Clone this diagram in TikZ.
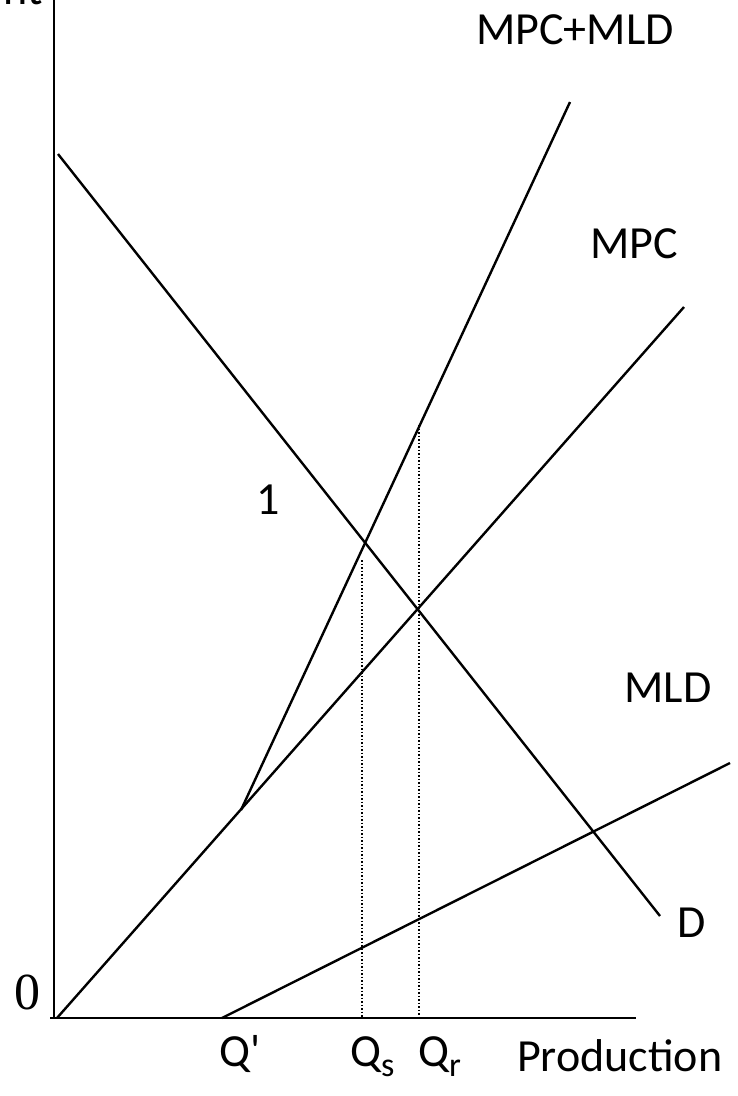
\documentclass[tikz,border=0pt]{standalone}
\usepackage{fontspec}
\setmainfont{Carlito}
\newfontfamily\zerofont{Liberation Serif}
\usetikzlibrary{positioning}
\tikzset{%
  curve/.style={line width=2.4pt,black},
  guide/.style={line width=1.5pt,dotted},
  lbl/.style={font=\fontsize{46}{52}\selectfont,inner sep=0pt}
}

\begin{document}
\begin{tikzpicture}[x=1pt,y=-1pt]
  \useasboundingbox (0,0) rectangle (738,1096);
  % axes
  \coordinate (ytop) at (54,0);
  \coordinate (orig) at (54,1018);
  \coordinate (xleft) at (50,1018);
  \coordinate (xend) at (636,1018);
  \draw[curve] (ytop) -- (orig);
  \draw[curve] (xleft) -- (xend);

  % curves
  \coordinate (d0) at (58,154);
  \coordinate (d1) at (660,916);
  \coordinate (mpc0) at (57,1018);
  \coordinate (mpc1) at (684,307);
  \coordinate (kink) at (241,810);
  \coordinate (sum1) at (570,102);
  \coordinate (mld0) at (222,1018);
  \coordinate (mld1) at (730,763);
  \draw[curve] (d0) -- (d1);
  \draw[curve] (mpc0) -- (mpc1);
  \draw[curve] (kink) -- (sum1);
  \draw[curve] (mld0) -- (mld1);

  % guides
  \coordinate (qs0) at (362,560);
  \coordinate (qs1) at (362,1018);
  \coordinate (qr0) at (419,425);
  \coordinate (qr1) at (419,1018);
  \draw[guide] (qs0) -- (qs1);
  \draw[guide] (qr0) -- (qr1);

  % labels
  \node[lbl, anchor=base east] (ytitle) at (43,4) {nt};
  \node[lbl] (lsum) at (575,30) {MPC+MLD};
  \node[lbl] (lmpc) at (634,244) {MPC};
  \node[lbl] (lmld) at (668,688) {MLD};
  \node[lbl] (ld) at (692,923) {D};
  \node[lbl] (lone) at (268,500) {1};
  \node[inner sep=0pt, font=\fontsize{52}{56}\zerofont] (lzero) at (27,992) {0};
  \node[lbl, anchor=base] (lqp) at (240,1066) {Q\textquotesingle};
  \node[lbl, anchor=base west] (lqs) at (350,1066) {Q\raisebox{-10pt}{\fontsize{34}{36}\selectfont s}};
  \node[lbl, anchor=base west] (lqr) at (418,1066) {Q\raisebox{-10pt}{\fontsize{34}{36}\selectfont r}};
  \node[lbl, anchor=base west] (lprod) at (517,1071) {Production};
\end{tikzpicture}
\end{document}
